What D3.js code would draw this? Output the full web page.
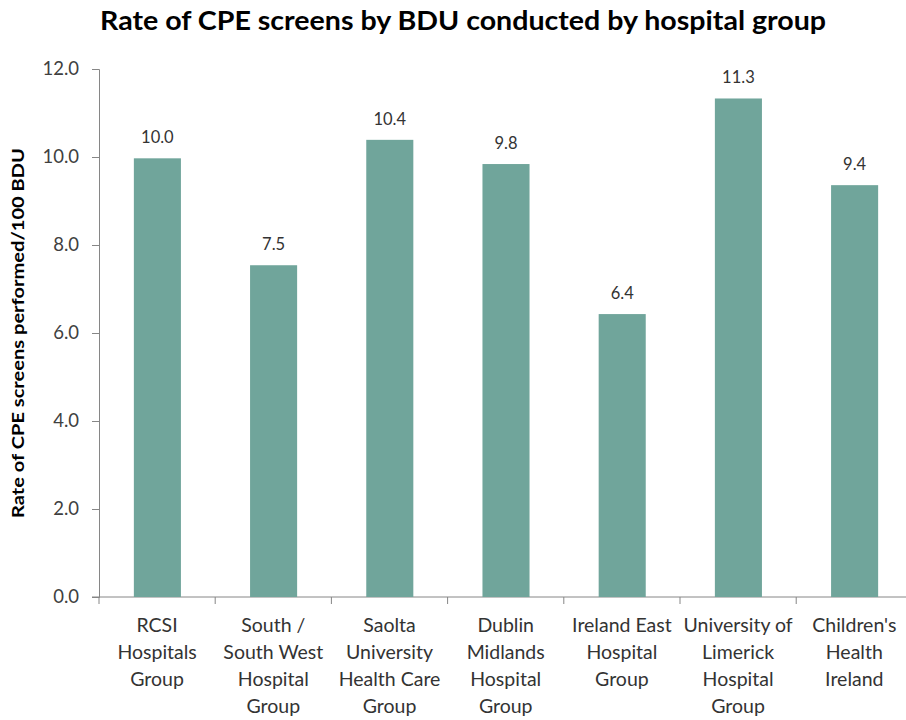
<!DOCTYPE html>
<html>
<head>
<meta charset="utf-8">
<script src="https://cdn.jsdelivr.net/npm/d3@7"></script>
<style>
  body { margin: 0; background: #fff; }
  text { font-family: Lato, "Open Sans", sans-serif; }
</style>
</head>
<body>
<div id="chart"></div>
<script>
var width = 906
var height = 720

// data
var groups = [
    ["RCSI", "Hospitals", "Group"],
    ["South /", "South West", "Hospital", "Group"],
    ["Saolta", "University", "Health Care", "Group"],
    ["Dublin", "Midlands", "Hospital", "Group"],
    ["Ireland East", "Hospital", "Group"],
    ["University of", "Limerick", "Hospital", "Group"],
    ["Children's", "Health", "Ireland"]
]
var rates = [9.97, 7.54, 10.39, 9.84, 6.43, 11.33, 9.36]
var yTicks = [0, 2, 4, 6, 8, 10, 12]

var margin = {left: 99, right: -7, top: 69, bottom: 123}

var svg = d3.select("#chart")
    .append("svg")
        .attr("width", width)
        .attr("height", height)

var x = d3.scaleBand()
    .domain(d3.range(groups.length))
    .range([margin.left, width - margin.right])
    .paddingInner(0.595)
    .paddingOuter(0.3)

var y = d3.scaleLinear()
    .domain([0, 12])
    .range([height - margin.bottom, margin.top])

// title
svg.append("text")
    .attr("x", 463)
    .attr("y", 30)
    .attr("text-anchor", "middle")
    .attr("font-size", 26)
    .attr("font-weight", "bold")
    .attr("fill", "#000")
    .attr("textLength", 726)
    .attr("lengthAdjust", "spacingAndGlyphs")
    .text("Rate of CPE screens by BDU conducted by hospital group")

// y axis
var yAxis = svg.append("g")
    .attr("transform", "translate(" + margin.left + ",0)")
    .call(d3.axisLeft(y).tickValues(yTicks).tickFormat(d3.format(".1f")).tickSize(7).tickPadding(13))
yAxis.select(".domain").attr("stroke", "#868686")
yAxis.selectAll(".tick line").attr("stroke", "#868686")
yAxis.selectAll(".tick text")
    .attr("font-size", 18.5)
    .attr("fill", "#404040")
    .attr("font-family", "Lato, sans-serif")

// x axis with ticks between categories
var step = x.step()
var edges = d3.range(groups.length + 1).map(function(i){ return margin.left + i * step })
svg.append("line")
    .attr("x1", margin.left - 7)
    .attr("x2", width)
    .attr("y1", y(0))
    .attr("y2", y(0))
    .attr("stroke", "#868686")
svg.selectAll(".xtick")
    .data(edges)
    .enter()
    .append("line")
        .attr("class", "xtick")
        .attr("x1", function(d){ return d })
        .attr("x2", function(d){ return d })
        .attr("y1", y(0))
        .attr("y2", y(0) + 7)
        .attr("stroke", "#868686")

// bars
svg.selectAll(".bar")
    .data(rates)
    .enter()
    .append("rect")
        .attr("class", "bar")
        .attr("x", function(d, i){ return x(i) })
        .attr("width", x.bandwidth())
        .attr("y", function(d){ return y(d) })
        .attr("height", function(d){ return y(0) - y(d) })
        .attr("fill", "#70a59b")

// value labels
svg.selectAll(".val")
    .data(rates)
    .enter()
    .append("text")
        .attr("class", "val")
        .attr("x", function(d, i){ return x(i) + x.bandwidth() / 2 })
        .attr("y", function(d){ return y(d) - 15 })
        .attr("text-anchor", "middle")
        .attr("font-size", 16.5)
        .attr("fill", "#333")
        .text(function(d){ return d.toFixed(1) })

// category labels
var cat = svg.selectAll(".cat")
    .data(groups)
    .enter()
    .append("text")
        .attr("class", "cat")
        .attr("text-anchor", "middle")
        .attr("font-size", 19.5)
        .attr("fill", "#333")
cat.selectAll("tspan")
    .data(function(d, i){ return d.map(function(t){ return {t: t, i: i} }) })
    .enter()
    .append("tspan")
        .attr("x", function(d){ return margin.left + (d.i + 0.5) * step })
        .attr("y", function(d, j){ return 632 + j * 27 })
        .text(function(d){ return d.t })

// y axis title
svg.append("text")
    .attr("transform", "translate(24," + (y(0) + y(12)) / 2 + ") rotate(-90)")
    .attr("text-anchor", "middle")
    .attr("font-size", 17.5)
    .attr("font-weight", "bold")
    .attr("fill", "#000")
    .attr("textLength", 370)
    .attr("lengthAdjust", "spacingAndGlyphs")
    .text("Rate of CPE screens performed/100 BDU")
</script>
</body>
</html>
